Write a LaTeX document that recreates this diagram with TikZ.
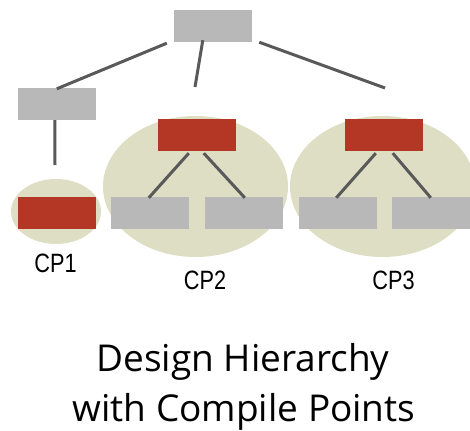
\documentclass[tikz,border=0pt]{standalone}
\usepackage{fontspec}
\setmainfont{Open Sans}
\newfontfamily\cpfont[FakeStretch=0.82]{Liberation Sans}
\definecolor{boxgray}{HTML}{B8B8B8}
\definecolor{cpred}{HTML}{B33724}
\definecolor{cpfill}{HTML}{DDDEC3}
\definecolor{linegray}{HTML}{595959}
\tikzset{
  graybox/.style={fill=boxgray, draw=none, minimum width=78pt, minimum height=32pt, inner sep=0pt},
  redbox/.style={fill=cpred, draw=none, minimum width=78pt, minimum height=32pt, inner sep=0pt},
  link/.style={draw=linegray, line width=3pt},
  cplabel/.style={font=\cpfont\fontsize{26.5}{30}\selectfont, anchor=base, inner sep=0pt},
  titletext/.style={font=\fontsize{37}{50}\selectfont, anchor=base, inner sep=0pt}
}
\begin{document}
\begin{tikzpicture}[x=1pt,y=-1pt]
\useasboundingbox (0,0) rectangle (470,430);
% compile point zones
\fill[cpfill] (56,211.5) ellipse [x radius=45, y radius=32.5];
\fill[cpfill] (195.5,186.5) ellipse [x radius=92.5, y radius=70.5];
\fill[cpfill] (382.5,186.5) ellipse [x radius=92.5, y radius=70.5];
% boxes
\node[graybox] (top) at (213,26) {};
\node[graybox] (left) at (57,104) {};
\node[redbox] (cp1) at (57,213) {};
\node[redbox] (cp2) at (197,135) {};
\node[redbox] (cp3) at (384,135) {};
\node[graybox] (cp2a) at (150,213) {};
\node[graybox] (cp2b) at (244,213) {};
\node[graybox] (cp3a) at (337.5,213) {};
\node[graybox] (cp3b) at (431,213) {};
% free ends
\coordinate (endcp2) at (195,87);
\coordinate (endcp3) at (385,88);
\coordinate (endcp1) at (55,165);
% connectors
\draw[link] ([shift={(-7,1)}]top.south west) -- ([shift={(39,1)}]left.north west);
\draw[link] ([shift={(29,-2)}]top.south west) -- (endcp2);
\draw[link] ([shift={(7,0)}]top.south east) -- (endcp3);
\draw[link] ([shift={(37,0)}]left.south west) -- (endcp1);
\draw[link] ([shift={(31,2)}]cp2.south west) -- ([shift={(38,1)}]cp2a.north west);
\draw[link] ([shift={(46,2)}]cp2.south west) -- ([shift={(40,1)}]cp2b.north west);
\draw[link] ([shift={(31,2)}]cp3.south west) -- ([shift={(38,1)}]cp3a.north west);
\draw[link] ([shift={(48,2)}]cp3.south west) -- ([shift={(39,1)}]cp3b.north west);
% labels
\node[cplabel] (l1) at (55.5,272.7) {CP1};
\node[cplabel] (l2) at (205,289) {CP2};
\node[cplabel] (l3) at (393.5,289) {CP3};
\node[titletext] (t1) at (243,371.5) {Design Hierarchy};
\node[titletext] (t2) at (244,421.5) {with Compile Points};
\end{tikzpicture}
\end{document}
